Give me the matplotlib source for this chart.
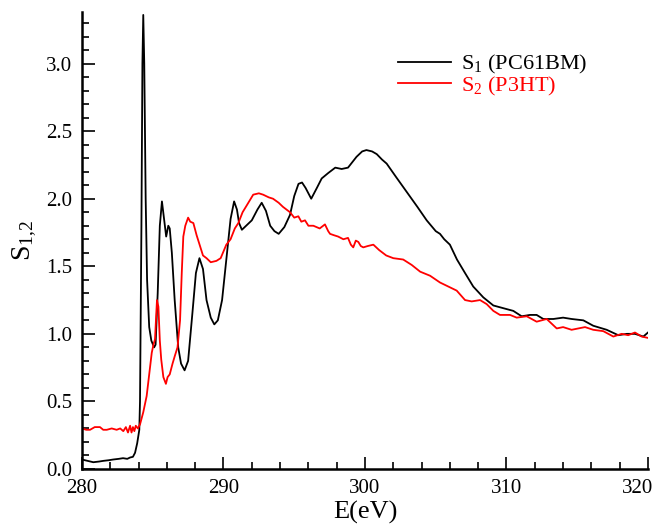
import numpy as np
import matplotlib
matplotlib.use("Agg")
import matplotlib.pyplot as plt
from matplotlib.ticker import MultipleLocator, FormatStrFormatter
from matplotlib.transforms import ScaledTranslation

plt.rcParams["font.family"] = ["Liberation Serif", "DejaVu Serif"]
plt.rcParams["mathtext.fontset"] = "custom"
plt.rcParams["mathtext.rm"] = "Liberation Serif"
plt.rcParams["mathtext.it"] = "Liberation Serif:italic"

# S1 (PC61BM), black curve
e_s1 = [280.0, 280.4, 280.8, 281.2, 281.5, 281.9, 282.2, 282.6, 282.9, 283.2, 283.4,
        283.6, 283.75, 283.9, 284.05, 284.1, 284.2, 284.27, 284.33, 284.4, 284.5, 284.6,
        284.75, 284.9, 285.1, 285.2, 285.35, 285.5, 285.65, 285.8, 285.95, 286.1, 286.2,
        286.35, 286.55, 286.8, 287.0, 287.25, 287.5, 287.8, 288.05, 288.3, 288.55, 288.8,
        289.1, 289.35, 289.6, 289.9, 290.2, 290.5, 290.75, 290.95, 291.1, 291.3, 291.6,
        292.0, 292.4, 292.7, 293.0, 293.3, 293.6, 293.9, 294.3, 294.7, 295.0, 295.3,
        295.55, 295.8, 296.2, 296.6, 296.94, 297.4, 297.9, 298.35, 298.8, 299.1, 299.4,
        299.8, 300.1, 300.5, 300.83, 301.2, 301.53, 302.2, 302.95, 303.7, 304.36, 305.0,
        305.3, 305.6, 306.0, 306.5, 307.07, 307.65, 308.36, 309.07, 309.77, 310.48,
        311.07, 311.66, 312.13, 312.6, 313.31, 314.0, 314.6, 315.43, 316.13, 317.08,
        317.9, 318.5, 319.08, 319.67, 320.0]
s1 = [0.07, 0.06, 0.05, 0.055, 0.06, 0.065, 0.07, 0.075, 0.08, 0.075, 0.085,
      0.09, 0.12, 0.19, 0.29, 0.5, 1.8, 3.0, 3.36, 3.0, 2.0, 1.4,
      1.05, 0.95, 0.9, 0.92, 1.3, 1.8, 1.98, 1.85, 1.72, 1.8, 1.78,
      1.6, 1.25, 0.9, 0.78, 0.73, 0.8, 1.15, 1.45, 1.56, 1.48, 1.25,
      1.12, 1.07, 1.1, 1.25, 1.55, 1.85, 1.98, 1.92, 1.82, 1.77, 1.8,
      1.84, 1.92, 1.97, 1.91, 1.8, 1.76, 1.74, 1.79, 1.88, 2.02, 2.11,
      2.12, 2.08, 2.0, 2.08, 2.15, 2.19, 2.23, 2.22, 2.23, 2.27, 2.31,
      2.35, 2.36, 2.35, 2.33, 2.29, 2.26, 2.16, 2.05, 1.94, 1.84, 1.76,
      1.74, 1.7, 1.66, 1.55, 1.45, 1.35, 1.27, 1.21, 1.19, 1.17,
      1.13, 1.14, 1.14, 1.11, 1.11, 1.12, 1.11, 1.10, 1.06, 1.03,
      0.99, 1.0, 1.0, 0.98, 1.01]

# S2 (P3HT), red curve
e_s2 = [280.0, 280.3, 280.57, 280.9, 281.27, 281.5, 281.75, 282.1, 282.45, 282.7,
        282.92, 283.1, 283.25, 283.4, 283.5, 283.6, 283.7, 283.8, 283.95, 284.1,
        284.33, 284.57, 284.75, 284.93, 285.05, 285.16, 285.25, 285.3, 285.4, 285.5,
        285.6, 285.75, 285.93, 286.05, 286.2, 286.4, 286.57, 286.75, 286.93, 287.05,
        287.16, 287.3, 287.5, 287.65, 287.87, 288.1, 288.34, 288.55, 288.8, 289.1,
        289.5, 289.8, 290.2, 290.5, 290.8, 291.05, 291.35, 291.64, 292.1, 292.5,
        292.8, 293.2, 293.5, 293.9, 294.2, 294.7, 295.0, 295.29, 295.5, 295.76,
        296.0, 296.35, 296.8, 297.17, 297.4, 297.53, 297.8, 298.1, 298.47, 298.8,
        299.0, 299.17, 299.35, 299.53, 299.7, 299.88, 300.2, 300.59, 301.0, 301.5,
        302.0, 302.7, 303.3, 303.9, 304.6, 305.3, 305.89, 306.48, 307.07, 307.54,
        308.13, 308.6, 309.07, 309.54, 310.25, 310.72, 311.43, 312.13, 312.84, 313.55,
        314.0, 314.6, 315.55, 316.13, 316.84, 317.55, 318.14, 318.6, 319.08, 319.55,
        320.0]
s2 = [0.30, 0.29, 0.29, 0.31, 0.31, 0.29, 0.29, 0.30, 0.29, 0.30,
      0.28, 0.31, 0.27, 0.32, 0.27, 0.31, 0.28, 0.32, 0.30, 0.33,
      0.42, 0.54, 0.70, 0.86, 0.92, 0.96, 1.15, 1.25, 1.20, 0.95,
      0.81, 0.68, 0.63, 0.68, 0.70, 0.78, 0.84, 0.90, 1.10, 1.45,
      1.72, 1.80, 1.86, 1.83, 1.82, 1.73, 1.65, 1.58, 1.56, 1.53,
      1.54, 1.56, 1.66, 1.70, 1.78, 1.82, 1.90, 1.95, 2.03, 2.04,
      2.03, 2.01, 2.00, 1.97, 1.94, 1.90, 1.86, 1.87, 1.83, 1.84,
      1.80, 1.80, 1.78, 1.81, 1.76, 1.74, 1.73, 1.72, 1.70, 1.71,
      1.66, 1.64, 1.69, 1.68, 1.65, 1.64, 1.65, 1.66, 1.62, 1.58,
      1.56, 1.55, 1.51, 1.46, 1.43, 1.38, 1.35, 1.32, 1.25, 1.24,
      1.25, 1.22, 1.17, 1.14, 1.14, 1.12, 1.13, 1.09, 1.11, 1.04,
      1.05, 1.03, 1.05, 1.03, 1.02, 0.98, 1.00, 0.99, 1.01, 0.98,
      0.97]

x_ticks = [280, 290, 300, 310, 320]

fig = plt.figure(figsize=(6.57, 5.25), dpi=100)
ax = fig.add_axes([0.1248, 0.1067, 0.8615, 0.870])

ax.plot(e_s1, s1, color="black", lw=1.3, label=r"$\mathregular{S_1}$ (PC61BM)")
ax.plot(e_s2, s2, color="red", lw=1.3, label=r"$\mathregular{S_2}$ (P3HT)")

ax.set_xlim(280, 320)
ax.set_ylim(0, 3.38)
ax.set_xticks(x_ticks)
ax.xaxis.set_minor_locator(MultipleLocator(2))
ax.yaxis.set_major_locator(MultipleLocator(0.5))
ax.yaxis.set_minor_locator(MultipleLocator(0.1))
ax.yaxis.set_major_formatter(FormatStrFormatter("%.1f"))

for s in ["top", "right"]:
    ax.spines[s].set_visible(False)
for s in ["left", "bottom"]:
    ax.spines[s].set_linewidth(1.8)

ax.tick_params(which="both", direction="in", width=1.2, labelsize=15)
ax.tick_params(which="major", length=9, pad=7)
ax.tick_params(which="minor", length=5)

# last x label is pushed left so it fits inside the figure
last = ax.xaxis.get_major_ticks()[-1].label1
last.set_transform(last.get_transform() + ScaledTranslation(-0.10, 0, fig.dpi_scale_trans))

ax.set_xlabel("E(eV)", fontsize=19, labelpad=2)
ax.set_ylabel(r"$\mathregular{S_{1{,}2}}$", fontsize=20, labelpad=5)

ax.legend(loc="upper left", bbox_to_anchor=(0.523, 0.955), frameon=False,
          fontsize=16, handlelength=2.4, handletextpad=0.45, labelspacing=-0.05,
          labelcolor="linecolor")

fig.savefig("out.png", dpi=100)
